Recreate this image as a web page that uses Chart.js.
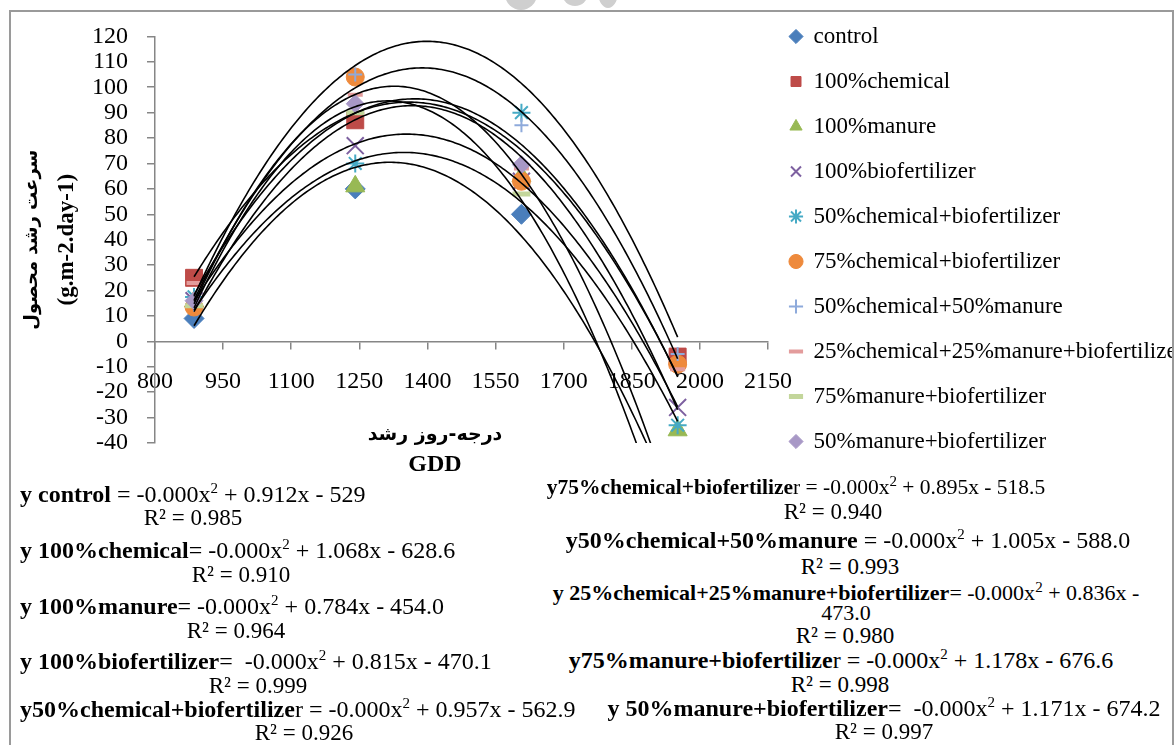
<!DOCTYPE html>
<html lang="fa">
<head>
<meta charset="UTF-8">
<title>سرعت رشد محصول - GDD</title>
<script src="https://cdn.jsdelivr.net/npm/chart.js"></script>
<style>
  body { margin: 0; background: #fff; width: 1174px; height: 745px; overflow: hidden; position: relative;
         font-family: 'Liberation Serif', 'Times New Roman', 'DejaVu Serif', 'DejaVu Sans', serif; color: #000; }
  #frame { position: absolute; left: 9px; top: 10px; width: 1165px; height: 800px; border: 2px solid #9a9a9a; box-sizing: border-box; }
  #logo { position: absolute; left: 490px; top: 0; width: 140px; height: 10px; overflow: hidden; }
  #logo div { position: absolute; background: #cfcfcf; border-radius: 50%; }
  #chartBox { position: absolute; left: 11px; top: 3px; width: 1161px; height: 480px; }
  .ax { position: absolute; white-space: nowrap; font-weight: bold; transform: translate(-50%, -50%); }
  .t { position: absolute; white-space: nowrap; font-size: 24px; line-height: 24px; }
  .r { font-size: 23px; }
  .c { transform: translateX(-50%); }
  sup { font-size: 15px; line-height: 0; }
</style>
</head>
<body>
  <div id="frame"></div>
  <div id="logo">
    <div style="left:15px; top:-22px; width:32px; height:32px;"></div>
    <div style="left:72px; top:-20px; width:26px; height:26px;"></div>
    <div style="left:108px; top:-24px; width:20px; height:32px;"></div>
  </div>
  <div id="chartBox"><canvas id="gddChart"></canvas></div>

  <div class="ax" style="left:435px; top:433px; font-size:19px; font-family:'DejaVu Sans', sans-serif;">درجه-روز رشد</div>
  <div class="ax" style="left:435px; top:463px; font-size:24px;">GDD</div>

  <!-- left column of trendline equations -->
  <div class="t" style="left:20px; top:482px;"><b>y control</b> = -0.000x<sup>2</sup> + 0.912x - 529</div>
  <div class="t r c" style="left:193px; top:506px;">R² = 0.985</div>
  <div class="t" style="left:20px; top:538px;"><b>y 100%chemical</b>= -0.000x<sup>2</sup> + 1.068x - 628.6</div>
  <div class="t r c" style="left:241px; top:563px;">R² = 0.910</div>
  <div class="t" style="left:20px; top:594px;"><b>y 100%manure</b>= -0.000x<sup>2</sup> + 0.784x - 454.0</div>
  <div class="t r c" style="left:236px; top:619px;">R² = 0.964</div>
  <div class="t" style="left:20px; top:649px;"><b>y 100%biofertilizer</b>= &nbsp;-0.000x<sup>2</sup> + 0.815x - 470.1</div>
  <div class="t r c" style="left:258px; top:674px;">R² = 0.999</div>
  <div class="t" style="left:20px; top:697px;"><b>y50%chemical+biofertilize</b>r = -0.000x<sup>2</sup> + 0.957x - 562.9</div>
  <div class="t r c" style="left:304px; top:721px;">R² = 0.926</div>

  <!-- right column -->
  <div class="t c" style="left:796px; top:475px; font-size:21.5px;"><b>y75%chemical+biofertilize</b>r = -0.000x<sup>2</sup> + 0.895x - 518.5</div>
  <div class="t r c" style="left:833px; top:500px;">R² = 0.940</div>
  <div class="t c" style="left:848px; top:528px;"><b>y50%chemical+50%manure</b> = -0.000x<sup>2</sup> + 1.005x - 588.0</div>
  <div class="t r c" style="left:850px; top:555px;">R² = 0.993</div>
  <div class="t c" style="left:846px; top:581px; font-size:22px;"><b>y 25%chemical+25%manure+biofertilizer</b>= -0.000x<sup>2</sup> + 0.836x -</div>
  <div class="t c" style="left:846px; top:601px; font-size:22px;">473.0</div>
  <div class="t r c" style="left:845px; top:624px;">R² = 0.980</div>
  <div class="t c" style="left:841px; top:648px;"><b>y75%manure+biofertilize</b>r = -0.000x<sup>2</sup> + 1.178x - 676.6</div>
  <div class="t r c" style="left:840px; top:673px;">R² = 0.998</div>
  <div class="t c" style="left:884px; top:696px;"><b>y 50%manure+biofertilizer</b>= &nbsp;-0.000x<sup>2</sup> + 1.171x - 674.2</div>
  <div class="t r c" style="left:884px; top:720px;">R² = 0.997</div>

<script>
// GDD (degree-days) at the four sampling dates
const gdd = [886, 1241, 1607, 1951];

const seriesNames = [
  'control', '100%chemical', '100%manure', '100%biofertilizer',
  '50%chemical+biofertilizer', '75%chemical+biofertilizer', '50%chemical+50%manure',
  '25%chemical+25%manure+biofertilizer', '75%manure+biofertilizer', '50%manure+biofertilizer'
];

// crop growth rate (g.m-2.day-1); points hidden under other markers or outside
// the -40..120 axis were estimated from the printed trendline equations
const control           = [9, 60, 50, -71.5];
const chemical100       = [25, 87, 123.4, -6];
const manure100         = [15.7, 61, 65, -35];
const bio100            = [16, 77, 63, -26];
const chem50Bio         = [17.5, 70, 90, -33];
const chem75Bio         = [13.5, 104, 63, -9];
const chem50Manure50    = [14.5, 105, 85, -5];
const chem25Manure25Bio = [23, 97, 68, -11];
const manure75Bio       = [14, 90, 58, -89.3];
const manure50Bio       = [16, 93.5, 69.5, -72.6];

const allSeries = [control, chemical100, manure100, bio100, chem50Bio,
  chem75Bio, chem50Manure50, chem25Manure25Bio, manure75Bio, manure50Bio];

// axis ranges
const xMin = 800, xMax = 2150, xStep = 150;
const yMin = -40, yMax = 120, yStep = 10;

// marker look, Excel 2007 palette
const colors  = ['#4a7ebb', '#be4b48', '#98b954', '#7d60a0', '#46aac5', '#ee8a3c', '#8eaadb', '#e39c9c', '#c3d69b', '#a898c6'];
const markers = ['rectRot', 'rect', 'triangle', 'crossRot', 'star', 'circle', 'cross', 'line', 'line', 'rectRot'];
const radii   = [10, 12, 11, 12, 9, 9, 7, 7.5, 9, 9];
const widths  = [1, 1, 1, 2, 2, 1, 2, 4, 5, 1];

// least squares 2nd order polynomial, same as the Excel trendline
function quadFit(xs, ys) {
  const m = xs.reduce((a, b) => a + b, 0) / xs.length;
  const s = [0, 0, 0, 0, 0], t = [0, 0, 0];
  xs.forEach((x, i) => {
    const u = (x - m) / 100;
    for (let k = 0; k < 5; k++) s[k] += Math.pow(u, k);
    for (let k = 0; k < 3; k++) t[k] += ys[i] * Math.pow(u, k);
  });
  const M = [[s[0], s[1], s[2], t[0]], [s[1], s[2], s[3], t[1]], [s[2], s[3], s[4], t[2]]];
  for (let i = 0; i < 3; i++) {
    for (let j = i + 1; j < 3; j++) {
      const f = M[j][i] / M[i][i];
      for (let k = i; k < 4; k++) M[j][k] -= f * M[i][k];
    }
  }
  const c = [0, 0, 0];
  for (let i = 2; i >= 0; i--) {
    let v = M[i][3];
    for (let k = i + 1; k < 3; k++) v -= M[i][k] * c[k];
    c[i] = v / M[i][i];
  }
  return x => { const u = (x - m) / 100; return c[0] + c[1] * u + c[2] * u * u; };
}

function trendPoints(ys) {
  const f = quadFit(gdd, ys);
  const pts = [];
  for (let x = gdd[0]; x < gdd[gdd.length - 1]; x += 5) pts.push({ x: x, y: f(x) });
  pts.push({ x: gdd[gdd.length - 1], y: f(gdd[gdd.length - 1]) });
  return pts;
}

// like Excel, values outside the axis range get no marker
const inRange = (ctx, r) => {
  const p = ctx.raw;
  return p && p.y >= yMin && p.y <= yMax ? r : 0;
};

const datasets = [];
allSeries.forEach((ys, i) => {
  datasets.push({
    label: seriesNames[i],
    data: gdd.map((x, j) => ({ x: x, y: ys[j] })),
    xAxisID: 'x', yAxisID: 'y',
    pointStyle: markers[i],
    pointRadius: ctx => inRange(ctx, radii[i]),
    pointHoverRadius: ctx => inRange(ctx, radii[i]),
    backgroundColor: colors[i],
    borderColor: colors[i],
    borderWidth: widths[i],
    showLine: false,
    order: 20 - i
  });
});
allSeries.forEach((ys, i) => {
  datasets.push({
    label: seriesNames[i] + ' trend',
    data: trendPoints(ys),
    xAxisID: 'x', yAxisID: 'y',
    showLine: true,
    pointRadius: 0,
    borderColor: '#000',
    borderWidth: 1.6,
    fill: false,
    order: -1
  });
});

const serif = "'Liberation Serif', 'Times New Roman', 'DejaVu Serif', 'DejaVu Sans', serif";
const axisGrey = '#868686';
const hidden = { grid: { display: false }, border: { display: false }, ticks: { display: false } };

new Chart(document.getElementById('gddChart'), {
  type: 'scatter',
  data: { datasets: datasets },
  options: {
    responsive: true,
    maintainAspectRatio: false,
    animation: false,
    layout: { padding: 0 },
    scales: {
      x: {
        type: 'linear',
        position: { y: 0 },
        min: xMin, max: xMax,
        ticks: { stepSize: xStep, color: '#000', padding: 19, maxRotation: 0, autoSkip: false,
                 font: { family: serif, size: 24 }, callback: v => String(v) },
        grid: { display: true, drawOnChartArea: false, tickLength: 7, color: axisGrey, lineWidth: 1.5 },
        border: { display: true, color: axisGrey, width: 1.5 }
      },
      y: {
        type: 'linear',
        position: 'left',
        min: yMin, max: yMax,
        ticks: { stepSize: yStep, color: '#000', padding: 19, autoSkip: false,
                 font: { family: serif, size: 24 }, callback: v => String(v) },
        grid: { display: true, drawOnChartArea: false, tickLength: 8, color: axisGrey, lineWidth: 1.5 },
        border: { display: true, color: axisGrey, width: 1.5 },
        title: {
          display: true,
          text: '(g.m-2.day-1)',
          color: '#000',
          font: { family: serif, size: 23, weight: 'bold' },
          padding: { top: 2, bottom: 0 }
        },
        afterFit: s => { s.width = 104; }
      },
      // outer band on the left holding the Persian half of the y title
      yName: {
        type: 'linear', position: 'left', weight: 1, ...hidden,
        title: {
          display: true,
          text: 'سرعت رشد محصول',
          color: '#000',
          font: { family: "'DejaVu Sans', sans-serif", size: 18, weight: 'bold' },
          padding: { top: 11, bottom: 0 }
        },
        afterFit: s => { s.width = 40; }
      },
      // empty bands that keep the plot off the top and bottom of the canvas
      padTop: { type: 'linear', position: 'top', ...hidden, afterFit: s => { s.height = 26; } },
      padBottom: { type: 'linear', position: 'bottom', ...hidden, afterFit: s => { s.height = 40; } }
    },
    plugins: {
      tooltip: { enabled: false },
      legend: {
        position: 'right',
        align: 'start',
        maxWidth: 404,
        labels: {
          usePointStyle: true,
          boxWidth: 12,
          boxHeight: 10,
          padding: 22,
          color: '#000',
          font: { family: serif, size: 23 },
          filter: item => item.datasetIndex < seriesNames.length,
          sort: (a, b) => a.datasetIndex - b.datasetIndex
        }
      }
    }
  }
});
</script>
</body>
</html>
